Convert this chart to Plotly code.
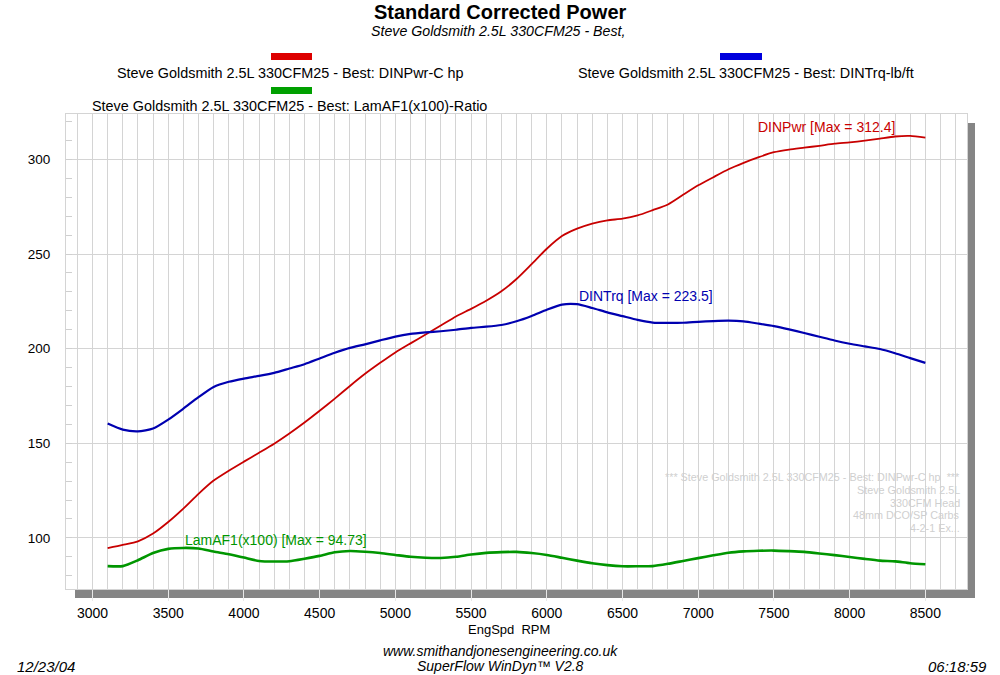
import plotly.graph_objects as go

# ---------------- data ----------------
rpm = [3100, 3200, 3300, 3400, 3500, 3600, 3700, 3800, 3900, 4000,
       4100, 4200, 4300, 4400, 4500, 4600, 4700, 4800, 4900, 5000,
       5100, 5200, 5300, 5400, 5500, 5600, 5700, 5800, 5900, 6000,
       6100, 6200, 6300, 6400, 6500, 6600, 6700, 6800, 6900, 7000,
       7100, 7200, 7300, 7400, 7500, 7600, 7700, 7800, 7900, 8000,
       8100, 8200, 8300, 8400, 8500]

din_pwr = [94.6, 96.3, 98.2, 102.3, 108.4, 115.5, 123.3, 130.3, 135.5, 140.3,
           145.0, 149.8, 155.2, 161.0, 167.2, 173.6, 180.3, 186.7, 192.5, 198.0,
           202.8, 207.5, 212.2, 217.0, 221.0, 225.3, 230.3, 236.8, 244.7, 252.8,
           259.5, 263.4, 266.1, 267.8, 268.7, 270.4, 273.2, 276.2, 281.3, 286.3,
           290.6, 294.8, 298.2, 301.2, 303.8, 305.2, 306.2, 307.2, 308.3, 309.0,
           309.9, 311.0, 312.1, 312.4, 311.5]

din_trq = [160.4, 157.2, 156.3, 157.8, 162.5, 168.3, 174.4, 179.8, 182.5, 184.2,
           185.6, 187.2, 189.5, 191.8, 194.8, 197.8, 200.4, 202.3, 204.4, 206.4,
           207.8, 208.6, 209.2, 210.0, 211.0, 211.6, 212.5, 214.5, 217.3, 220.6,
           223.3, 223.5, 221.5, 219.2, 217.2, 215.2, 213.8, 213.6, 213.7, 214.2,
           214.6, 214.8, 214.4, 213.2, 211.9, 210.2, 208.3, 206.3, 204.3, 202.6,
           201.2, 199.8, 197.6, 195.0, 192.5]

lam_af1 = [85.1, 85.1, 88.2, 92.0, 94.2, 94.7, 94.4, 92.8, 91.4, 89.6,
           87.8, 87.5, 87.7, 89.0, 90.5, 92.4, 93.1, 92.7, 92.0, 91.0,
           90.0, 89.5, 89.4, 90.0, 91.2, 92.1, 92.5, 92.6, 92.0, 91.0,
           89.5, 88.0, 86.6, 85.6, 85.0, 85.0, 85.1, 86.3, 87.8, 89.3,
           90.8, 92.2, 92.9, 93.2, 93.3, 93.0, 92.6, 91.8, 90.9, 89.9,
           88.9, 88.0, 87.6, 86.6, 86.1]

legend_names = ["Steve Goldsmith 2.5L 330CFM25 - Best: DINPwr-C hp",
                "Steve Goldsmith 2.5L 330CFM25 - Best: DINTrq-lb/ft",
                "Steve Goldsmith 2.5L 330CFM25 - Best: LamAF1(x100)-Ratio"]
max_labels = ["DINPwr [Max = 312.4]", "DINTrq [Max = 223.5]", "LamAF1(x100) [Max = 94.73]"]
note_lines = ["*** Steve Goldsmith 2.5L 330CFM25 - Best: DINPwr-C hp  ***",
              "Steve Goldsmith 2.5L", "330CFM Head", "48mm DCO/SP Carbs", "4-2-1 Ex..."]

# ---------------- layout helpers ----------------
W, H = 1000, 675
L, R, T, B = 66, 967, 114, 589
FONT = "Liberation Sans, Arial, sans-serif"


def px(x):
    return (x - L) / (R - L)


def py(y):
    return (B - y) / (B - T)


RED, BLUE, GREEN = "#c80000", "#0000b0", "#009600"

fig = go.Figure()
fig.add_trace(go.Scatter(x=rpm, y=din_pwr, mode="lines",
                         line=dict(color=RED, width=1.8, shape="spline", smoothing=0.6),
                         name=legend_names[0], showlegend=False))
fig.add_trace(go.Scatter(x=rpm, y=din_trq, mode="lines",
                         line=dict(color=BLUE, width=2.2, shape="spline", smoothing=0.6),
                         name=legend_names[1], showlegend=False))
fig.add_trace(go.Scatter(x=rpm, y=lam_af1, mode="lines",
                         line=dict(color=GREEN, width=2.6, shape="spline", smoothing=0.6),
                         name=legend_names[2], showlegend=False))

grid = "#d4d4d4"
fig.update_layout(
    width=W, height=H,
    margin=dict(l=L, r=W - R, t=T, b=H - B, pad=0),
    paper_bgcolor="white", plot_bgcolor="white",
    font=dict(family=FONT, size=14, color="black"),
    xaxis=dict(range=[2825, 8775], tick0=0, dtick=500, ticks="outside", ticklen=11,
               tickcolor="#e8e8e8", showgrid=True, gridcolor=grid, gridwidth=1,
               minor=dict(dtick=100, showgrid=True, gridcolor=grid, ticks=""),
               zeroline=False, showline=True, linecolor=grid, mirror=True,
               tickfont=dict(size=14)),
    yaxis=dict(range=[73, 324], tick0=0, dtick=50, ticks="inside", ticklen=6,
               tickcolor="#cfcfcf", showgrid=True, gridcolor=grid, gridwidth=1,
               minor=dict(dtick=10, ticks="inside", ticklen=6, tickcolor="#cfcfcf", showgrid=False),
               zeroline=False, showline=True, linecolor=grid, mirror=True,
               ticklabelstandoff=12, tickfont=dict(size=13.5)),
)

# gray drop shadow
shadow = "#858585"
fig.add_shape(type="rect", xref="paper", yref="paper", layer="below",
              x0=px(967), x1=px(975), y0=py(598), y1=py(123),
              fillcolor=shadow, line=dict(width=0))
fig.add_shape(type="rect", xref="paper", yref="paper", layer="below",
              x0=px(75), x1=px(975), y0=py(598), y1=py(590),
              fillcolor=shadow, line=dict(width=0))

# legend swatches
for (x0, x1, yc, col) in [(271, 312, 56.5, "#dd0000"), (720, 762, 56.5, "#0000dd"), (271, 312, 90.5, "#00a000")]:
    fig.add_shape(type="rect", xref="paper", yref="paper",
                  x0=px(x0), x1=px(x1), y0=py(yc + 3.5), y1=py(yc - 3.5),
                  fillcolor=col, line=dict(width=0))

ann = []


def text(x, y, s, size=14, color="black", xanchor="center", italic=False, bold=False):
    if bold:
        s = "<b>" + s + "</b>"
    if italic:
        s = "<i>" + s + "</i>"
    ann.append(dict(x=px(x), y=py(y), xref="paper", yref="paper", text=s, showarrow=False,
                    xanchor=xanchor, yanchor="middle",
                    font=dict(family=FONT, size=size, color=color)))


text(500, 12, "Standard Corrected Power", size=20, bold=True)
text(498, 31, "Steve Goldsmith 2.5L 330CFM25 - Best,", size=14.2, italic=True)
text(290, 73, legend_names[0], size=14.4)
text(746, 73, legend_names[1], size=14.4)
text(289, 106, legend_names[2], size=14.4)

text(509, 629, "EngSpd  RPM", size=13)
text(500, 651, "www.smithandjonesengineering.co.uk", size=14, italic=True)
text(500, 666, "SuperFlow WinDyn\u2122 V2.8", size=14, italic=True)
text(15, 666, "12/23/04", size=15, italic=True, xanchor="left")
text(989, 666, "06:18:59", size=15, italic=True, xanchor="right")

# curve max labels
text(756, 127, max_labels[0], size=14, color=RED, xanchor="left")
text(577, 296, max_labels[1], size=14, color=BLUE, xanchor="left")
text(183, 540, max_labels[2], size=14, color=GREEN, xanchor="left")

# faint notes
for i, s in enumerate(note_lines):
    text(962, 477 + i * 12.8, s, size=10.8, color="#cfcfcf", xanchor="right")

fig.update_layout(annotations=ann)
fig.write_html("out.html")
